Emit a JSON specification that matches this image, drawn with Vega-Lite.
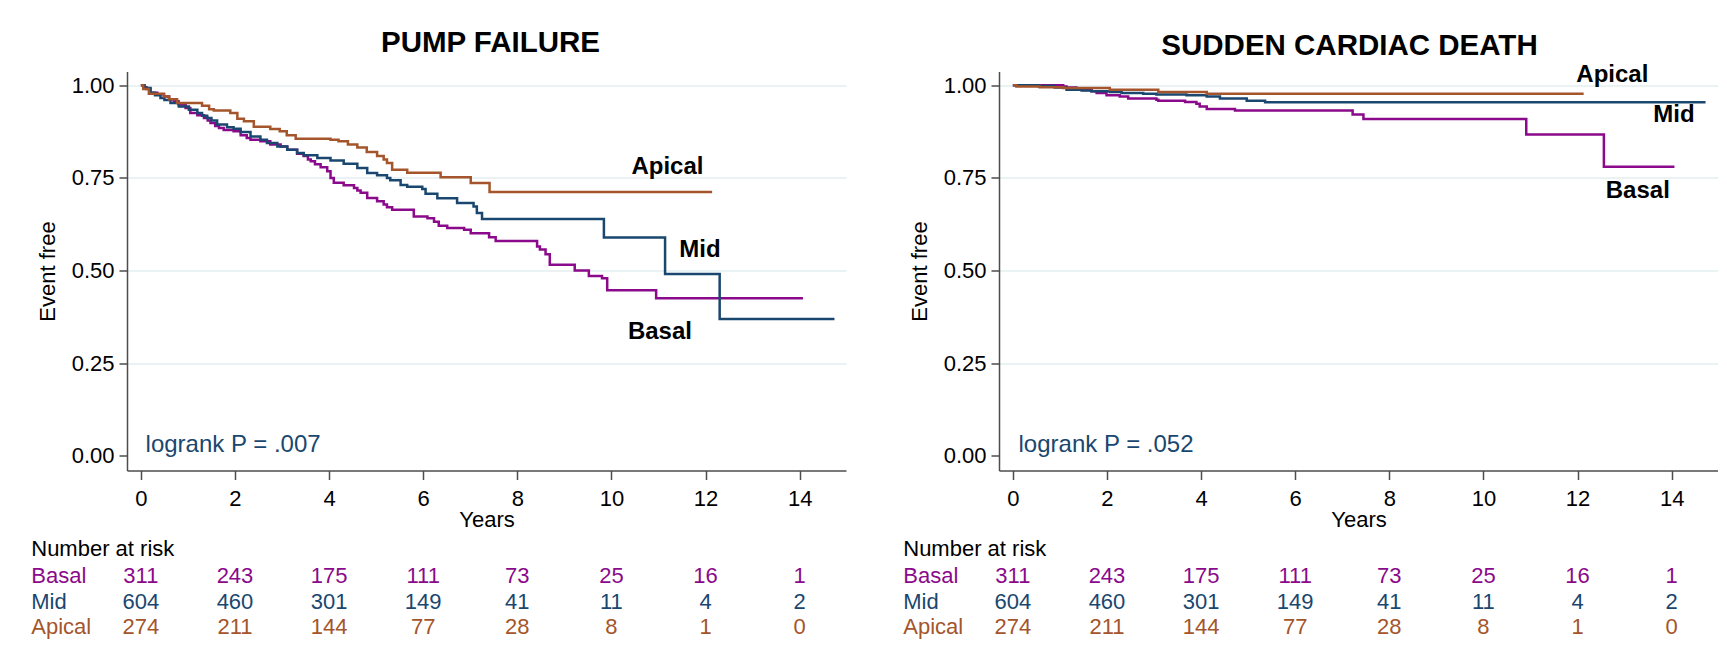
{
"$schema": "https://vega.github.io/schema/vega-lite/v6.json",
"padding": {"left": 31, "top": 27.5, "right": 0, "bottom": 0},
"background": "white",
"bounds": "flush",
"spacing": 153,
"config": {
  "view": {"stroke": null},
  "font": "Liberation Sans",
  "axis": {"labelFont": "Liberation Sans", "titleFont": "Liberation Sans", "labelColor": "#000", "titleColor": "#000", "titleFontWeight": "normal", "domainColor": "#4d4d4d", "tickColor": "#4d4d4d", "domainWidth": 1.5, "tickWidth": 1.5},
  "text": {"font": "Liberation Sans"}
},
"datasets": {
  "km": [
    {"p":"PF","g":"Basal","t":0,"s":1},{"p":"PF","g":"Basal","t":0.06,"s":0.995},{"p":"PF","g":"Basal","t":0.12,"s":0.99},{"p":"PF","g":"Basal","t":0.2,"s":0.98},{"p":"PF","g":"Basal","t":0.35,"s":0.976},{"p":"PF","g":"Basal","t":0.49,"s":0.97},{"p":"PF","g":"Basal","t":0.6,"s":0.962},{"p":"PF","g":"Basal","t":0.7,"s":0.957},{"p":"PF","g":"Basal","t":0.8,"s":0.948},{"p":"PF","g":"Basal","t":0.95,"s":0.939},{"p":"PF","g":"Basal","t":1.05,"s":0.925},{"p":"PF","g":"Basal","t":1.2,"s":0.919},{"p":"PF","g":"Basal","t":1.34,"s":0.912},{"p":"PF","g":"Basal","t":1.42,"s":0.905},{"p":"PF","g":"Basal","t":1.48,"s":0.898},{"p":"PF","g":"Basal","t":1.58,"s":0.89},{"p":"PF","g":"Basal","t":1.66,"s":0.885},{"p":"PF","g":"Basal","t":1.76,"s":0.879},{"p":"PF","g":"Basal","t":1.97,"s":0.876},{"p":"PF","g":"Basal","t":2.12,"s":0.865},{"p":"PF","g":"Basal","t":2.25,"s":0.858},{"p":"PF","g":"Basal","t":2.33,"s":0.853},{"p":"PF","g":"Basal","t":2.54,"s":0.849},{"p":"PF","g":"Basal","t":2.75,"s":0.84},{"p":"PF","g":"Basal","t":2.97,"s":0.835},{"p":"PF","g":"Basal","t":3.11,"s":0.826},{"p":"PF","g":"Basal","t":3.32,"s":0.815},{"p":"PF","g":"Basal","t":3.46,"s":0.809},{"p":"PF","g":"Basal","t":3.55,"s":0.8},{"p":"PF","g":"Basal","t":3.61,"s":0.795},{"p":"PF","g":"Basal","t":3.7,"s":0.787},{"p":"PF","g":"Basal","t":3.82,"s":0.779},{"p":"PF","g":"Basal","t":3.96,"s":0.768},{"p":"PF","g":"Basal","t":4.03,"s":0.75},{"p":"PF","g":"Basal","t":4.1,"s":0.737},{"p":"PF","g":"Basal","t":4.31,"s":0.73},{"p":"PF","g":"Basal","t":4.53,"s":0.723},{"p":"PF","g":"Basal","t":4.6,"s":0.716},{"p":"PF","g":"Basal","t":4.67,"s":0.71},{"p":"PF","g":"Basal","t":4.81,"s":0.696},{"p":"PF","g":"Basal","t":5.02,"s":0.687},{"p":"PF","g":"Basal","t":5.16,"s":0.678},{"p":"PF","g":"Basal","t":5.23,"s":0.671},{"p":"PF","g":"Basal","t":5.34,"s":0.664},{"p":"PF","g":"Basal","t":5.8,"s":0.646},{"p":"PF","g":"Basal","t":6.09,"s":0.641},{"p":"PF","g":"Basal","t":6.23,"s":0.632},{"p":"PF","g":"Basal","t":6.33,"s":0.621},{"p":"PF","g":"Basal","t":6.51,"s":0.615},{"p":"PF","g":"Basal","t":6.87,"s":0.61},{"p":"PF","g":"Basal","t":7.01,"s":0.601},{"p":"PF","g":"Basal","t":7.4,"s":0.59},{"p":"PF","g":"Basal","t":7.54,"s":0.58},{"p":"PF","g":"Basal","t":8.42,"s":0.565},{"p":"PF","g":"Basal","t":8.48,"s":0.557},{"p":"PF","g":"Basal","t":8.6,"s":0.544},{"p":"PF","g":"Basal","t":8.69,"s":0.516},{"p":"PF","g":"Basal","t":9.22,"s":0.5},{"p":"PF","g":"Basal","t":9.52,"s":0.485},{"p":"PF","g":"Basal","t":9.8,"s":0.479},{"p":"PF","g":"Basal","t":9.91,"s":0.447},{"p":"PF","g":"Basal","t":10.95,"s":0.425},{"p":"PF","g":"Basal","t":14.07,"s":0.425},
    {"p":"PF","g":"Mid","t":0,"s":1},{"p":"PF","g":"Mid","t":0.08,"s":0.993},{"p":"PF","g":"Mid","t":0.205,"s":0.98},{"p":"PF","g":"Mid","t":0.3,"s":0.973},{"p":"PF","g":"Mid","t":0.417,"s":0.966},{"p":"PF","g":"Mid","t":0.5,"s":0.96},{"p":"PF","g":"Mid","t":0.629,"s":0.952},{"p":"PF","g":"Mid","t":0.806,"s":0.943},{"p":"PF","g":"Mid","t":1.02,"s":0.934},{"p":"PF","g":"Mid","t":1.2,"s":0.925},{"p":"PF","g":"Mid","t":1.3,"s":0.918},{"p":"PF","g":"Mid","t":1.41,"s":0.912},{"p":"PF","g":"Mid","t":1.5,"s":0.905},{"p":"PF","g":"Mid","t":1.62,"s":0.894},{"p":"PF","g":"Mid","t":1.83,"s":0.887},{"p":"PF","g":"Mid","t":1.97,"s":0.883},{"p":"PF","g":"Mid","t":2.12,"s":0.874},{"p":"PF","g":"Mid","t":2.33,"s":0.862},{"p":"PF","g":"Mid","t":2.54,"s":0.853},{"p":"PF","g":"Mid","t":2.68,"s":0.844},{"p":"PF","g":"Mid","t":2.9,"s":0.835},{"p":"PF","g":"Mid","t":3.11,"s":0.826},{"p":"PF","g":"Mid","t":3.32,"s":0.817},{"p":"PF","g":"Mid","t":3.46,"s":0.811},{"p":"PF","g":"Mid","t":3.75,"s":0.804},{"p":"PF","g":"Mid","t":4.03,"s":0.797},{"p":"PF","g":"Mid","t":4.31,"s":0.788},{"p":"PF","g":"Mid","t":4.6,"s":0.777},{"p":"PF","g":"Mid","t":4.81,"s":0.763},{"p":"PF","g":"Mid","t":5.02,"s":0.757},{"p":"PF","g":"Mid","t":5.23,"s":0.75},{"p":"PF","g":"Mid","t":5.3,"s":0.744},{"p":"PF","g":"Mid","t":5.52,"s":0.731},{"p":"PF","g":"Mid","t":5.66,"s":0.726},{"p":"PF","g":"Mid","t":5.98,"s":0.72},{"p":"PF","g":"Mid","t":6.05,"s":0.707},{"p":"PF","g":"Mid","t":6.3,"s":0.695},{"p":"PF","g":"Mid","t":6.72,"s":0.682},{"p":"PF","g":"Mid","t":7.07,"s":0.673},{"p":"PF","g":"Mid","t":7.14,"s":0.655},{"p":"PF","g":"Mid","t":7.25,"s":0.639},{"p":"PF","g":"Mid","t":9.84,"s":0.589},{"p":"PF","g":"Mid","t":11.14,"s":0.491},{"p":"PF","g":"Mid","t":12.3,"s":0.369},{"p":"PF","g":"Mid","t":14.74,"s":0.369},
    {"p":"PF","g":"Apical","t":0,"s":1},{"p":"PF","g":"Apical","t":0.05,"s":0.99},{"p":"PF","g":"Apical","t":0.17,"s":0.977},{"p":"PF","g":"Apical","t":0.49,"s":0.97},{"p":"PF","g":"Apical","t":0.6,"s":0.962},{"p":"PF","g":"Apical","t":0.77,"s":0.952},{"p":"PF","g":"Apical","t":1.3,"s":0.945},{"p":"PF","g":"Apical","t":1.45,"s":0.935},{"p":"PF","g":"Apical","t":1.55,"s":0.932},{"p":"PF","g":"Apical","t":1.9,"s":0.925},{"p":"PF","g":"Apical","t":2.05,"s":0.91},{"p":"PF","g":"Apical","t":2.19,"s":0.903},{"p":"PF","g":"Apical","t":2.4,"s":0.888},{"p":"PF","g":"Apical","t":2.75,"s":0.882},{"p":"PF","g":"Apical","t":2.95,"s":0.876},{"p":"PF","g":"Apical","t":3.1,"s":0.865},{"p":"PF","g":"Apical","t":3.29,"s":0.856},{"p":"PF","g":"Apical","t":4.03,"s":0.853},{"p":"PF","g":"Apical","t":4.2,"s":0.849},{"p":"PF","g":"Apical","t":4.4,"s":0.84},{"p":"PF","g":"Apical","t":4.6,"s":0.832},{"p":"PF","g":"Apical","t":4.8,"s":0.82},{"p":"PF","g":"Apical","t":5.02,"s":0.809},{"p":"PF","g":"Apical","t":5.16,"s":0.8},{"p":"PF","g":"Apical","t":5.23,"s":0.79},{"p":"PF","g":"Apical","t":5.34,"s":0.772},{"p":"PF","g":"Apical","t":5.66,"s":0.764},{"p":"PF","g":"Apical","t":6.37,"s":0.752},{"p":"PF","g":"Apical","t":7.01,"s":0.736},{"p":"PF","g":"Apical","t":7.41,"s":0.712},{"p":"PF","g":"Apical","t":12.14,"s":0.712},
    {"p":"SCD","g":"Basal","t":0,"s":1},{"p":"SCD","g":"Basal","t":1.07,"s":0.997},{"p":"SCD","g":"Basal","t":1.14,"s":0.994},{"p":"SCD","g":"Basal","t":1.35,"s":0.991},{"p":"SCD","g":"Basal","t":1.5,"s":0.987},{"p":"SCD","g":"Basal","t":1.67,"s":0.984},{"p":"SCD","g":"Basal","t":1.78,"s":0.979},{"p":"SCD","g":"Basal","t":1.99,"s":0.973},{"p":"SCD","g":"Basal","t":2.27,"s":0.97},{"p":"SCD","g":"Basal","t":2.45,"s":0.964},{"p":"SCD","g":"Basal","t":3.05,"s":0.961},{"p":"SCD","g":"Basal","t":3.09,"s":0.958},{"p":"SCD","g":"Basal","t":3.66,"s":0.955},{"p":"SCD","g":"Basal","t":3.9,"s":0.95},{"p":"SCD","g":"Basal","t":3.97,"s":0.943},{"p":"SCD","g":"Basal","t":4.12,"s":0.936},{"p":"SCD","g":"Basal","t":4.72,"s":0.932},{"p":"SCD","g":"Basal","t":7.22,"s":0.921},{"p":"SCD","g":"Basal","t":7.45,"s":0.909},{"p":"SCD","g":"Basal","t":10.91,"s":0.867},{"p":"SCD","g":"Basal","t":12.56,"s":0.78},{"p":"SCD","g":"Basal","t":14.06,"s":0.78},
    {"p":"SCD","g":"Mid","t":0,"s":1},{"p":"SCD","g":"Mid","t":0.535,"s":0.998},{"p":"SCD","g":"Mid","t":0.89,"s":0.994},{"p":"SCD","g":"Mid","t":1.14,"s":0.988},{"p":"SCD","g":"Mid","t":1.46,"s":0.986},{"p":"SCD","g":"Mid","t":1.67,"s":0.984},{"p":"SCD","g":"Mid","t":2.06,"s":0.982},{"p":"SCD","g":"Mid","t":2.31,"s":0.979},{"p":"SCD","g":"Mid","t":2.77,"s":0.977},{"p":"SCD","g":"Mid","t":3.05,"s":0.975},{"p":"SCD","g":"Mid","t":3.69,"s":0.973},{"p":"SCD","g":"Mid","t":4.12,"s":0.97},{"p":"SCD","g":"Mid","t":4.4,"s":0.964},{"p":"SCD","g":"Mid","t":4.97,"s":0.958},{"p":"SCD","g":"Mid","t":5.36,"s":0.954},{"p":"SCD","g":"Mid","t":14.72,"s":0.954},
    {"p":"SCD","g":"Apical","t":0,"s":1},{"p":"SCD","g":"Apical","t":0.074,"s":0.997},{"p":"SCD","g":"Apical","t":0.57,"s":0.995},{"p":"SCD","g":"Apical","t":1.07,"s":0.993},{"p":"SCD","g":"Apical","t":2.06,"s":0.988},{"p":"SCD","g":"Apical","t":3.09,"s":0.982},{"p":"SCD","g":"Apical","t":4.12,"s":0.977},{"p":"SCD","g":"Apical","t":12.13,"s":0.977}
  ],
  "risk": [
    {"g":"Basal","t":0,"n":311},{"g":"Basal","t":2,"n":243},{"g":"Basal","t":4,"n":175},{"g":"Basal","t":6,"n":111},{"g":"Basal","t":8,"n":73},{"g":"Basal","t":10,"n":25},{"g":"Basal","t":12,"n":16},{"g":"Basal","t":14,"n":1},
    {"g":"Mid","t":0,"n":604},{"g":"Mid","t":2,"n":460},{"g":"Mid","t":4,"n":301},{"g":"Mid","t":6,"n":149},{"g":"Mid","t":8,"n":41},{"g":"Mid","t":10,"n":11},{"g":"Mid","t":12,"n":4},{"g":"Mid","t":14,"n":2},
    {"g":"Apical","t":0,"n":274},{"g":"Apical","t":2,"n":211},{"g":"Apical","t":4,"n":144},{"g":"Apical","t":6,"n":77},{"g":"Apical","t":8,"n":28},{"g":"Apical","t":10,"n":8},{"g":"Apical","t":12,"n":1},{"g":"Apical","t":14,"n":0}
  ],
  "lab": [
    {"p":"PF","g":"Apical","t":11.19,"s":0.78},{"p":"PF","g":"Mid","t":11.88,"s":0.556},{"p":"PF","g":"Basal","t":11.03,"s":0.3355},
    {"p":"SCD","g":"Apical","t":12.74,"s":1.028},{"p":"SCD","g":"Mid","t":14.05,"s":0.919},{"p":"SCD","g":"Basal","t":13.28,"s":0.714}
  ],
  "rows": [{"g":"Basal"},{"g":"Mid"},{"g":"Apical"}],
  "notes": [{"p":"PF","txt":"logrank P = .007"},{"p":"SCD","txt":"logrank P = .052"}]
},
"hconcat": [
 {
  "width": 719, "height": 399,
  "title": {"text": "PUMP FAILURE", "font": "Liberation Sans", "fontSize": 29.5, "fontWeight": "bold", "color": "#000", "anchor": "middle", "baseline": "alphabetic", "offset": -10, "dx": 4},
  "layer": [
   {"data": {"name": "km"}, "transform": [{"filter": "datum.p === 'PF'"}],
    "mark": {"type": "line", "interpolate": "step-after", "strokeWidth": 2.5},
    "encoding": {
      "x": {"field": "t", "type": "quantitative", "scale": {"domain": [-0.295, 14.985], "nice": false, "zero": false},
            "axis": {"values": [0,2,4,6,8,10,12,14], "format": "d", "title": "Years", "grid": false, "tickSize": 9, "labelFontSize": 22, "titleFontSize": 22, "labelPadding": 9, "titlePadding": 0}},
      "y": {"field": "s", "type": "quantitative", "scale": {"domain": [-0.0396, 1.0372], "nice": false, "zero": false},
            "axis": {"values": [0,0.25,0.5,0.75,1], "format": ".2f", "title": "Event free", "grid": true, "gridColor": "#eaf2f3", "gridWidth": 2, "gridOpacity": {"condition": {"test": "datum.value === 0", "value": 0}, "value": 1}, "tickSize": 8, "labelPadding": 5, "labelFontSize": 22, "titleFontSize": 22, "titlePadding": 12}},
      "color": {"field": "g", "type": "nominal", "scale": {"domain": ["Basal","Mid","Apical"], "range": ["#8b0a8b","#1a476f","#a4552b"]}, "legend": null}
    }},
   {"data": {"name": "lab"}, "transform": [{"filter": "datum.p === 'PF'"}],
    "mark": {"type": "text", "fontSize": 24, "fontWeight": "bold", "align": "center", "baseline": "middle", "color": "#000"},
    "encoding": {"x": {"field": "t", "type": "quantitative"}, "y": {"field": "s", "type": "quantitative"}, "text": {"field": "g"}}},
   {"data": {"name": "notes"}, "transform": [{"filter": "datum.p === 'PF'"}],
    "mark": {"type": "text", "fontSize": 24, "align": "left", "baseline": "alphabetic", "color": "#1a476f"},
    "encoding": {"x": {"datum": 0.1}, "y": {"datum": 0.009}, "text": {"field": "txt"}}},
   {"data": {"values": [{"h": "Number at risk"}]},
    "mark": {"type": "text", "fontSize": 22, "align": "left", "baseline": "alphabetic", "color": "#000"},
    "encoding": {"x": {"datum": -2.33}, "y": {"datum": -0.2713}, "text": {"field": "h"}}},
   {"data": {"name": "rows"}, "transform": [{"filter": "datum.g === 'Basal'"}],
    "mark": {"type": "text", "fontSize": 22, "align": "left", "baseline": "alphabetic"},
    "encoding": {"x": {"datum": -2.33}, "y": {"datum": -0.343}, "text": {"field": "g"}, "color": {"field": "g", "type": "nominal"}}},
   {"data": {"name": "rows"}, "transform": [{"filter": "datum.g === 'Mid'"}],
    "mark": {"type": "text", "fontSize": 22, "align": "left", "baseline": "alphabetic"},
    "encoding": {"x": {"datum": -2.33}, "y": {"datum": -0.4123}, "text": {"field": "g"}, "color": {"field": "g", "type": "nominal"}}},
   {"data": {"name": "rows"}, "transform": [{"filter": "datum.g === 'Apical'"}],
    "mark": {"type": "text", "fontSize": 22, "align": "left", "baseline": "alphabetic"},
    "encoding": {"x": {"datum": -2.33}, "y": {"datum": -0.4811}, "text": {"field": "g"}, "color": {"field": "g", "type": "nominal"}}},
   {"data": {"name": "risk"}, "transform": [{"filter": "datum.g === 'Basal'"}],
    "mark": {"type": "text", "fontSize": 22, "align": "center", "baseline": "alphabetic"},
    "encoding": {"x": {"field": "t", "type": "quantitative"}, "y": {"datum": -0.343}, "text": {"field": "n", "type": "quantitative"}, "color": {"field": "g", "type": "nominal"}}},
   {"data": {"name": "risk"}, "transform": [{"filter": "datum.g === 'Mid'"}],
    "mark": {"type": "text", "fontSize": 22, "align": "center", "baseline": "alphabetic"},
    "encoding": {"x": {"field": "t", "type": "quantitative"}, "y": {"datum": -0.4123}, "text": {"field": "n", "type": "quantitative"}, "color": {"field": "g", "type": "nominal"}}},
   {"data": {"name": "risk"}, "transform": [{"filter": "datum.g === 'Apical'"}],
    "mark": {"type": "text", "fontSize": 22, "align": "center", "baseline": "alphabetic"},
    "encoding": {"x": {"field": "t", "type": "quantitative"}, "y": {"datum": -0.4811}, "text": {"field": "n", "type": "quantitative"}, "color": {"field": "g", "type": "nominal"}}}
  ]
 },
 {
  "width": 719, "height": 399,
  "title": {"text": "SUDDEN CARDIAC DEATH", "font": "Liberation Sans", "fontSize": 29.5, "fontWeight": "bold", "color": "#000", "anchor": "middle", "baseline": "alphabetic", "offset": -10, "dx": -9, "dy": 11.5},
  "layer": [
   {"data": {"name": "km"}, "transform": [{"filter": "datum.p === 'SCD'"}],
    "mark": {"type": "line", "interpolate": "step-after", "strokeWidth": 2.5},
    "encoding": {
      "x": {"field": "t", "type": "quantitative", "scale": {"domain": [-0.295, 14.985], "nice": false, "zero": false},
            "axis": {"values": [0,2,4,6,8,10,12,14], "format": "d", "title": "Years", "grid": false, "tickSize": 9, "labelFontSize": 22, "titleFontSize": 22, "labelPadding": 9, "titlePadding": 0}},
      "y": {"field": "s", "type": "quantitative", "scale": {"domain": [-0.0396, 1.0372], "nice": false, "zero": false},
            "axis": {"values": [0,0.25,0.5,0.75,1], "format": ".2f", "title": "Event free", "grid": true, "gridColor": "#eaf2f3", "gridWidth": 2, "gridOpacity": {"condition": {"test": "datum.value === 0", "value": 0}, "value": 1}, "tickSize": 8, "labelPadding": 5, "labelFontSize": 22, "titleFontSize": 22, "titlePadding": 12}},
      "color": {"field": "g", "type": "nominal", "scale": {"domain": ["Basal","Mid","Apical"], "range": ["#8b0a8b","#1a476f","#a4552b"]}, "legend": null}
    }},
   {"data": {"name": "lab"}, "transform": [{"filter": "datum.p === 'SCD'"}],
    "mark": {"type": "text", "fontSize": 24, "fontWeight": "bold", "align": "center", "baseline": "middle", "color": "#000"},
    "encoding": {"x": {"field": "t", "type": "quantitative"}, "y": {"field": "s", "type": "quantitative"}, "text": {"field": "g"}}},
   {"data": {"name": "notes"}, "transform": [{"filter": "datum.p === 'SCD'"}],
    "mark": {"type": "text", "fontSize": 24, "align": "left", "baseline": "alphabetic", "color": "#1a476f"},
    "encoding": {"x": {"datum": 0.12}, "y": {"datum": 0.009}, "text": {"field": "txt"}}},
   {"data": {"values": [{"h": "Number at risk"}]},
    "mark": {"type": "text", "fontSize": 22, "align": "left", "baseline": "alphabetic", "color": "#000"},
    "encoding": {"x": {"datum": -2.33}, "y": {"datum": -0.2713}, "text": {"field": "h"}}},
   {"data": {"name": "rows"}, "transform": [{"filter": "datum.g === 'Basal'"}],
    "mark": {"type": "text", "fontSize": 22, "align": "left", "baseline": "alphabetic"},
    "encoding": {"x": {"datum": -2.33}, "y": {"datum": -0.343}, "text": {"field": "g"}, "color": {"field": "g", "type": "nominal"}}},
   {"data": {"name": "rows"}, "transform": [{"filter": "datum.g === 'Mid'"}],
    "mark": {"type": "text", "fontSize": 22, "align": "left", "baseline": "alphabetic"},
    "encoding": {"x": {"datum": -2.33}, "y": {"datum": -0.4123}, "text": {"field": "g"}, "color": {"field": "g", "type": "nominal"}}},
   {"data": {"name": "rows"}, "transform": [{"filter": "datum.g === 'Apical'"}],
    "mark": {"type": "text", "fontSize": 22, "align": "left", "baseline": "alphabetic"},
    "encoding": {"x": {"datum": -2.33}, "y": {"datum": -0.4811}, "text": {"field": "g"}, "color": {"field": "g", "type": "nominal"}}},
   {"data": {"name": "risk"}, "transform": [{"filter": "datum.g === 'Basal'"}],
    "mark": {"type": "text", "fontSize": 22, "align": "center", "baseline": "alphabetic"},
    "encoding": {"x": {"field": "t", "type": "quantitative"}, "y": {"datum": -0.343}, "text": {"field": "n", "type": "quantitative"}, "color": {"field": "g", "type": "nominal"}}},
   {"data": {"name": "risk"}, "transform": [{"filter": "datum.g === 'Mid'"}],
    "mark": {"type": "text", "fontSize": 22, "align": "center", "baseline": "alphabetic"},
    "encoding": {"x": {"field": "t", "type": "quantitative"}, "y": {"datum": -0.4123}, "text": {"field": "n", "type": "quantitative"}, "color": {"field": "g", "type": "nominal"}}},
   {"data": {"name": "risk"}, "transform": [{"filter": "datum.g === 'Apical'"}],
    "mark": {"type": "text", "fontSize": 22, "align": "center", "baseline": "alphabetic"},
    "encoding": {"x": {"field": "t", "type": "quantitative"}, "y": {"datum": -0.4811}, "text": {"field": "n", "type": "quantitative"}, "color": {"field": "g", "type": "nominal"}}}
  ]
 }
]
}
